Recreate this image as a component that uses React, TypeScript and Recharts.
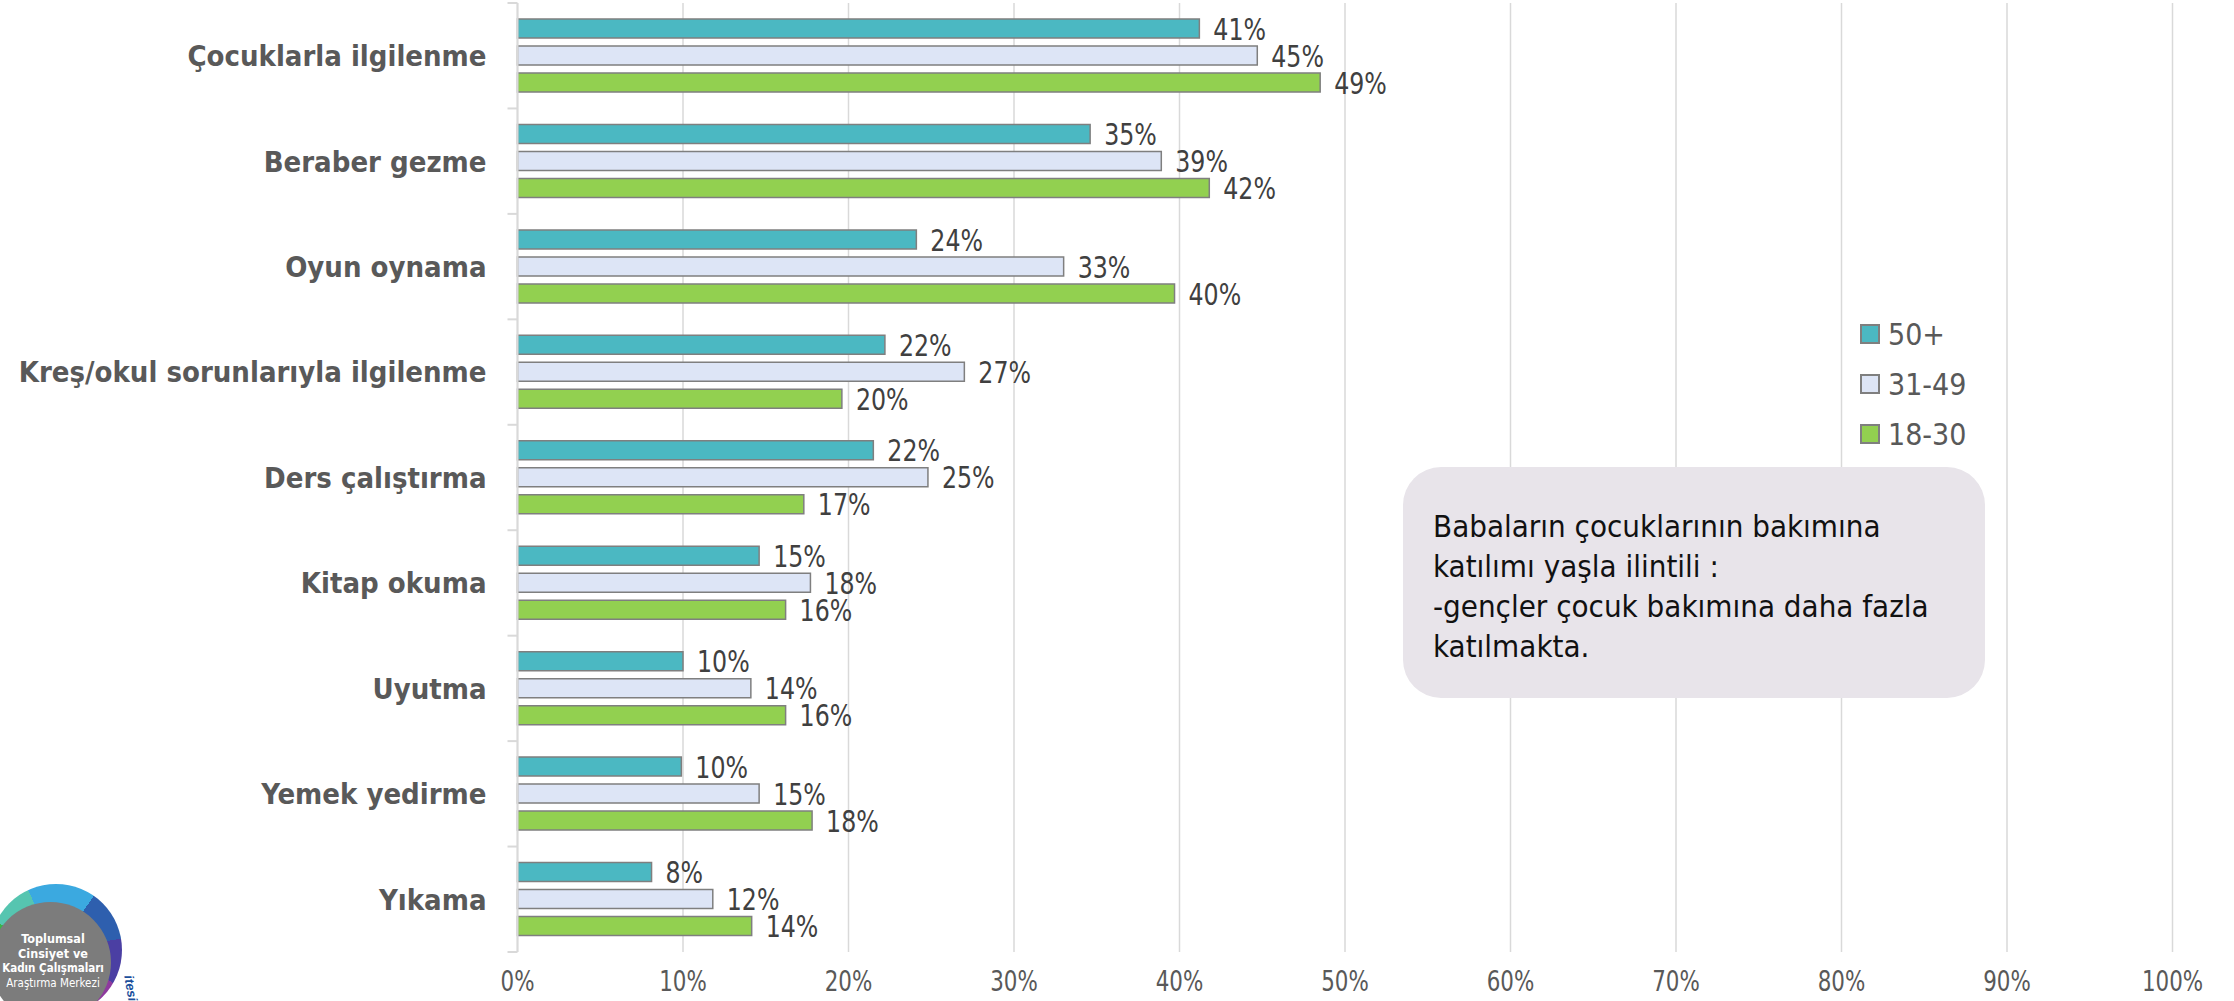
import React from 'react';
import { BarChart, Bar, XAxis, YAxis, CartesianGrid, Legend, LabelList } from 'recharts';

const categories = [
  'Çocuklarla ilgilenme',
  'Beraber gezme',
  'Oyun oynama',
  'Kreş/okul sorunlarıyla ilgilenme',
  'Ders çalıştırma',
  'Kitap okuma',
  'Uyutma',
  'Yemek yedirme',
  'Yıkama',
];
const age50plus = [41.2, 34.6, 24.1, 22.2, 21.5, 14.6, 10.0, 9.9, 8.1];
const age31to49 = [44.7, 38.9, 33.0, 27.0, 24.8, 17.7, 14.1, 14.6, 11.8];
const age18to30 = [48.5, 41.8, 39.7, 19.6, 17.3, 16.2, 16.2, 17.8, 14.15];
const xTicks = [0, 10, 20, 30, 40, 50, 60, 70, 80, 90, 100];

const series = [
  { key: 'a50', name: '50+', fill: '#4BB8C2' },
  { key: 'a31', name: '31-49', fill: '#DDE5F6' },
  { key: 'a18', name: '18-30', fill: '#92D050' },
];

const data = categories.map((name, i) => ({
  name,
  a50: age50plus[i],
  a31: age31to49[i],
  a18: age18to30[i],
}));

const COND = "'DejaVu Sans Condensed', 'DejaVu Sans', sans-serif";
const SANS = "'Liberation Sans', Arial, sans-serif";

const pct = (v: number) => `${Math.round(v)}%`;

function CategoryTick(props: any) {
  const { x, y, payload, index, visibleTicksCount } = props;
  const half = payload.offset || 0;
  return (
    <g>
      <line x1={x - 10} x2={x} y1={y - half} y2={y - half} stroke="#D9D9D9" strokeWidth={2} />
      {index === visibleTicksCount - 1 && (
        <line x1={x - 10} x2={x} y1={y + half} y2={y + half} stroke="#D9D9D9" strokeWidth={2} />
      )}
      <text
        x={x - 31}
        y={y}
        dy="0.36em"
        textAnchor="end"
        fill="#595959"
        fontSize={29}
        fontWeight="bold"
        fontFamily={COND}
      >
        {payload.value}
      </text>
    </g>
  );
}

function PercentTick(props: any) {
  const { x, y, payload } = props;
  return (
    <g transform={`translate(${x},${y})`}>
      <text
        transform="scale(0.85,1)"
        x={0}
        y={0}
        dy="0.73em"
        textAnchor="middle"
        fill="#595959"
        fontSize={28}
        fontFamily={COND}
      >
        {pct(payload.value)}
      </text>
    </g>
  );
}

function BarValueLabel(props: any) {
  const { x, y, width, height, value } = props;
  const lx = Number(x) + Number(width) + 14;
  const ly = Number(y) + Number(height) / 2;
  return (
    <g transform={`translate(${lx},${ly})`}>
      <text
        transform="scale(0.85,1)"
        x={0}
        y={0}
        dy="0.36em"
        textAnchor="start"
        fill="#404040"
        fontSize={31}
        fontFamily={COND}
      >
        {pct(value)}
      </text>
    </g>
  );
}

function LegendContent() {
  return (
    <div>
      {series.map((s) => (
        <div key={s.key} style={{ display: 'flex', alignItems: 'center', height: 50 }}>
          <div
            style={{
              width: 16,
              height: 16,
              background: s.fill,
              border: '2px solid #7F7F7F',
              marginRight: 8,
            }}
          />
          <span style={{ fontFamily: COND, fontSize: 30, color: '#595959' }}>{s.name}</span>
        </div>
      ))}
    </div>
  );
}

function Logo() {
  return (
    <>
      <div
        style={{
          position: 'absolute',
          left: -10,
          top: 884,
          width: 132,
          height: 132,
          borderRadius: '50%',
          background:
            'conic-gradient(from 0deg, #3BA9E0 0deg 35deg, #2E5FAE 35deg 80deg, #4B3FA3 80deg 120deg, #8E3A9E 120deg 145deg, #C2268E 145deg 175deg, #F4E500 195deg 235deg, #39B54A 235deg 295deg, #56C5B0 295deg 335deg, #3BA9E0 335deg 360deg)',
        }}
      />
      <div
        style={{
          position: 'absolute',
          left: -10,
          top: 902,
          width: 121,
          height: 121,
          borderRadius: '50%',
          background: '#7C7C7C',
        }}
      />
      <div
        style={{
          position: 'absolute',
          left: 0,
          top: 932,
          width: 106,
          textAlign: 'center',
          color: '#FFFFFF',
          fontFamily: COND,
          fontSize: 12.5,
          lineHeight: '14.5px',
          whiteSpace: 'nowrap',
        }}
      >
        <div style={{ fontWeight: 'bold' }}>Toplumsal</div>
        <div style={{ fontWeight: 'bold' }}>Cinsiyet ve</div>
        <div style={{ fontWeight: 'bold', fontSize: 11.5 }}>Kadın Çalışmaları</div>
        <div style={{ fontSize: 11.5 }}>Araştırma Merkezi</div>
      </div>
      <div
        style={{
          position: 'absolute',
          left: 136,
          top: 974,
          color: '#1B4F9C',
          fontFamily: SANS,
          fontWeight: 'bold',
          fontStyle: 'italic',
          fontSize: 13,
          transform: 'rotate(80deg)',
          transformOrigin: 'left top',
        }}
      >
        itesi
      </div>
    </>
  );
}

export default function App() {
  return (
    <div
      style={{
        position: 'absolute',
        left: 0,
        top: 0,
        width: 2234,
        height: 1001,
        background: '#FFFFFF',
        overflow: 'hidden',
      }}
    >
      <BarChart
        width={2234}
        height={1001}
        data={data}
        layout="vertical"
        barSize={19}
        barGap={8}
        margin={{ top: 3, right: 61.5, bottom: 0, left: 0 }}
      >
        <CartesianGrid horizontal={false} stroke="#D9D9D9" strokeWidth={1.5} />
        <XAxis
          type="number"
          domain={[0, 100]}
          ticks={xTicks}
          axisLine={false}
          tickLine={false}
          tickSize={0}
          tickMargin={19}
          height={49}
          interval={0}
          tick={<PercentTick />}
        />
        <YAxis
          type="category"
          dataKey="name"
          width={517.5}
          axisLine={{ stroke: '#D9D9D9', strokeWidth: 2 }}
          tickLine={false}
          tickSize={0}
          tickMargin={0}
          interval={0}
          tick={<CategoryTick />}
        />
        <Legend
          layout="vertical"
          verticalAlign="middle"
          align="center"
          content={<LegendContent />}
          wrapperStyle={{ position: 'absolute', left: 1860, top: 309, width: 200 }}
        />
        {series.map((s) => (
          <Bar
            key={s.key}
            dataKey={s.key}
            name={s.name}
            fill={s.fill}
            stroke="#7F7F7F"
            strokeWidth={1.5}
            isAnimationActive={false}
          >
            <LabelList dataKey={s.key} content={<BarValueLabel />} />
          </Bar>
        ))}
      </BarChart>
      <div
        style={{
          position: 'absolute',
          left: 1403,
          top: 467,
          width: 582,
          height: 231,
          boxSizing: 'border-box',
          borderRadius: 38,
          background: '#E8E4EA',
          paddingLeft: 30,
          paddingTop: 39,
          fontFamily: COND,
          fontSize: 31,
          lineHeight: '40px',
          color: '#111111',
          whiteSpace: 'nowrap',
        }}
      >
        Babaların çocuklarının bakımına
        <br />
        katılımı yaşla ilintili :
        <br />
        -gençler çocuk bakımına daha fazla
        <br />
        katılmakta.
      </div>
      <Logo />
    </div>
  );
}
